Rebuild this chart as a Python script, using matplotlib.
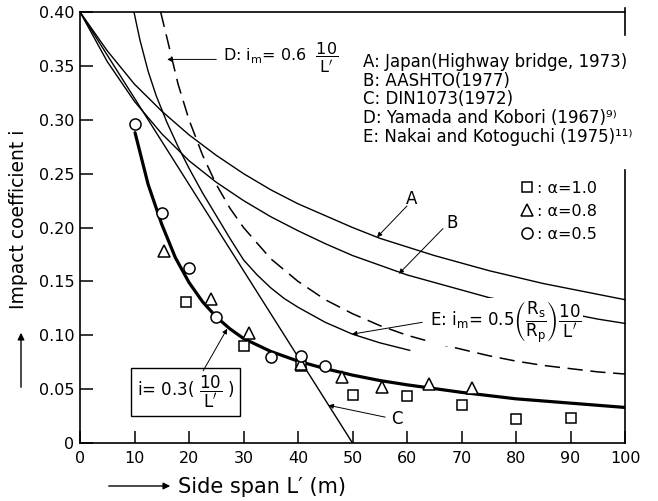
import matplotlib
matplotlib.use('Agg')
import matplotlib.pyplot as plt
from matplotlib.patches import FancyArrowPatch

plt.rcParams['font.family'] = ['DejaVu Sans']
plt.rcParams['mathtext.fontset'] = 'dejavusans'

# ---------------- data ----------------
# A: Japan (Highway bridge, 1973)
a_span = [0, 5, 10, 15, 20, 25, 30, 35, 40, 45, 50, 55, 60, 65, 70, 75, 80, 85, 90, 95, 100]
a_val = [0.400, 0.364, 0.333, 0.308, 0.286, 0.267, 0.250, 0.235, 0.222, 0.211, 0.200,
         0.190, 0.182, 0.174, 0.167, 0.160, 0.154, 0.148, 0.143, 0.138, 0.133]
# B: AASHTO (1977)
b_span = [0, 5, 10, 15, 20, 25, 30, 35, 40, 45, 50, 55, 60, 65, 70, 75, 80, 85, 90, 95, 100]
b_val = [0.400, 0.354, 0.317, 0.287, 0.262, 0.242, 0.225, 0.210, 0.197, 0.185, 0.174,
         0.165, 0.156, 0.149, 0.142, 0.135, 0.130, 0.124, 0.120, 0.115, 0.111]
# C: DIN1073 (1972)
c_span = [0, 50]
c_val = [0.400, 0.000]
# D: Yamada and Kobori (1967)
d_span = [14.8, 16, 18, 20, 22.5, 25, 27.5, 30, 35, 40, 45, 50, 55, 60, 65, 70, 75, 80, 85, 90, 95, 100]
d_val = [0.400, 0.375, 0.333, 0.300, 0.267, 0.240, 0.218, 0.200, 0.171, 0.150, 0.133,
         0.120, 0.109, 0.100, 0.093, 0.087, 0.081, 0.076, 0.072, 0.069, 0.066, 0.064]
# E: Nakai and Kotoguchi (1975)
e_span = [9.9, 11, 12.5, 14, 16, 18, 20, 22.5, 25, 27.5, 30, 32.5, 35, 37.5, 40, 45, 50, 55, 60.5]
e_val = [0.400, 0.374, 0.345, 0.322, 0.297, 0.275, 0.255, 0.232, 0.211, 0.190, 0.170,
         0.156, 0.144, 0.134, 0.126, 0.112, 0.101, 0.093, 0.086]
# i = 0.3(10/L')
fit_span = [10.1, 12.5, 15, 17.5, 20, 22.5, 25, 27.5, 30, 35, 40, 45, 50, 55, 60, 70, 80, 90, 100]
fit_val = [0.288, 0.240, 0.203, 0.172, 0.149, 0.131, 0.117, 0.106, 0.097, 0.085, 0.076,
           0.069, 0.063, 0.058, 0.054, 0.047, 0.041, 0.037, 0.033]
# measured points
sq_span = [19.5, 30, 40.5, 50, 60, 70, 80, 90]
sq_val = [0.131, 0.090, 0.071, 0.045, 0.044, 0.035, 0.022, 0.023]
tri_span = [15.5, 24, 31, 40.5, 48, 55.5, 64, 72]
tri_val = [0.178, 0.134, 0.102, 0.073, 0.061, 0.052, 0.055, 0.051]
cir_span = [10, 15, 20, 25, 35, 40.5, 45]
cir_val = [0.296, 0.213, 0.162, 0.117, 0.080, 0.081, 0.071]

x_ticks = [0, 10, 20, 30, 40, 50, 60, 70, 80, 90, 100]
x_tick_labels = ['0', '10', '20', '30', '40', '50', '60', '70', '80', '90', '100']
y_ticks = [0, 0.05, 0.10, 0.15, 0.20, 0.25, 0.30, 0.35, 0.40]
y_tick_labels = ['0', '0.05', '0.10', '0.15', '0.20', '0.25', '0.30', '0.35', '0.40']

legend_lines = ['A: Japan(Highway bridge, 1973)',
                'B: AASHTO(1977)',
                'C: DIN1073(1972)',
                'D: Yamada and Kobori (1967)\u2079\u207e',
                'E: Nakai and Kotoguchi (1975)\u00b9\u00b9\u207e']
alpha_labels = [': \u03b1=1.0', ': \u03b1=0.8', ': \u03b1=0.5']

# ---------------- figure ----------------
W, H = 658, 501
fig = plt.figure(figsize=(W / 100, H / 100), dpi=100)
ax = fig.add_axes([80 / W, 58 / H, 545 / W, 431 / H])
ax.set_xlim(0, 100)
ax.set_ylim(0, 0.40)

thin = 1.0
ax.plot(a_span, a_val, color='k', lw=thin, clip_on=False)
ax.plot(b_span, b_val, color='k', lw=thin, clip_on=False)
ax.plot(c_span, c_val, color='k', lw=thin)
ax.plot(d_span, d_val, color='k', lw=1.1, dashes=(10, 5))
ax.plot(e_span, e_val, color='k', lw=thin)
ax.plot(fit_span, fit_val, color='k', lw=2.3, solid_capstyle='round')

mk = dict(linestyle='none', markerfacecolor='white', markeredgecolor='k', markeredgewidth=1.1, zorder=4)
h_sq, = ax.plot(sq_span, sq_val, marker='s', markersize=6.5, **mk)
h_tri, = ax.plot(tri_span, tri_val, marker='^', markersize=8.5, **mk)
h_cir, = ax.plot(cir_span, cir_val, marker='o', markersize=8, **mk)

# axes styling
for s in ['left', 'bottom', 'top']:
    ax.spines[s].set_linewidth(1.2)
ax.spines['right'].set_visible(False)
ax.plot([1, 1], [0, 0.633], transform=ax.transAxes, color='k', lw=1.2, clip_on=False)
ax.plot([1, 1], [0.947, 1.01], transform=ax.transAxes, color='k', lw=1.2, clip_on=False)

ax.set_xticks(x_ticks)
ax.set_xticklabels(x_tick_labels)
ax.set_yticks(y_ticks)
ax.set_yticklabels(y_tick_labels)
ax.tick_params(direction='in', length=9, width=1.1, labelsize=11.5)
ax.tick_params(axis='x', pad=6)
ax.tick_params(axis='y', pad=4)

# axis labels with arrows
fig.text(19 / W, 1 - 219 / H, 'Impact coefficient i', rotation=90, ha='center', va='center', fontsize=13.5)
fig.add_artist(FancyArrowPatch((21 / W, 1 - 390 / H), (21 / W, 1 - 330 / H),
               transform=fig.transFigure, arrowstyle='-|>', mutation_scale=10, lw=1.0, color='k'))
fig.text(178 / W, 1 - 487 / H, 'Side span L\u2032 (m)', ha='left', va='center', fontsize=15)
fig.add_artist(FancyArrowPatch((106 / W, 1 - 486 / H), (173 / W, 1 - 486 / H),
               transform=fig.transFigure, arrowstyle='-|>', mutation_scale=10, lw=1.0, color='k'))

# legend text block
for k, t in enumerate(legend_lines):
    fig.text(363 / W, 1 - (62 + 18.7 * k) / H, t, ha='left', va='center', fontsize=12)

# marker legend
ax.legend([h_sq, h_tri, h_cir], alpha_labels, loc='upper left',
          bbox_to_anchor=(520 / W, 1 - 181 / H), bbox_transform=fig.transFigure,
          frameon=False, fontsize=11.5, handlelength=0.9, handletextpad=0.15,
          labelspacing=0.5, borderpad=0, borderaxespad=0, numpoints=1)

arw = dict(arrowstyle='-|>', mutation_scale=7, lw=0.7, color='k', shrinkA=0, shrinkB=0)

# curve labels
ax.text(60.9, 0.226, 'A', fontsize=12, ha='center', va='center')
ax.annotate('', xy=(54.5, 0.191), xytext=(60.0, 0.220), arrowprops=arw)
ax.text(68.3, 0.204, 'B', fontsize=12, ha='center', va='center')
ax.annotate('', xy=(58.5, 0.157), xytext=(66.6, 0.199), arrowprops=arw)
ax.text(58.2, 0.022, 'C', fontsize=12, ha='center', va='center')
ax.annotate('', xy=(45.6, 0.035), xytext=(56.0, 0.024), arrowprops=arw)

# D annotation
ax.text(26.2, 0.357, r"D: i$_\mathregular{m}$= 0.6  $\dfrac{\mathregular{10}}{\mathregular{L}'}$",
        fontsize=11.5, ha='left', va='center')
ax.annotate('', xy=(16.0, 0.356), xytext=(25.0, 0.356), arrowprops=arw)

# E annotation
ax.text(64.2, 0.112,
        r"E: i$_\mathregular{m}$= 0.5$\left(\dfrac{\mathregular{R_s}}{\mathregular{R_p}}\right)\dfrac{\mathregular{10}}{\mathregular{L}'}$",
        fontsize=12, ha='left', va='center',
        bbox=dict(facecolor='white', edgecolor='none', pad=1.0), zorder=5)
ax.annotate('', xy=(49.9, 0.101), xytext=(62.8, 0.112), arrowprops=arw)

# boxed formula
ax.text(19.4, 0.047, r"i= 0.3( $\dfrac{\mathregular{10}}{\mathregular{L}'}$ )", fontsize=12,
        ha='center', va='center',
        bbox=dict(facecolor='white', edgecolor='k', linewidth=1.0, boxstyle='square,pad=0.35'))
ax.annotate('', xy=(27.0, 0.106), xytext=(22.6, 0.067), arrowprops=arw)

fig.savefig('out.png', dpi=100)
